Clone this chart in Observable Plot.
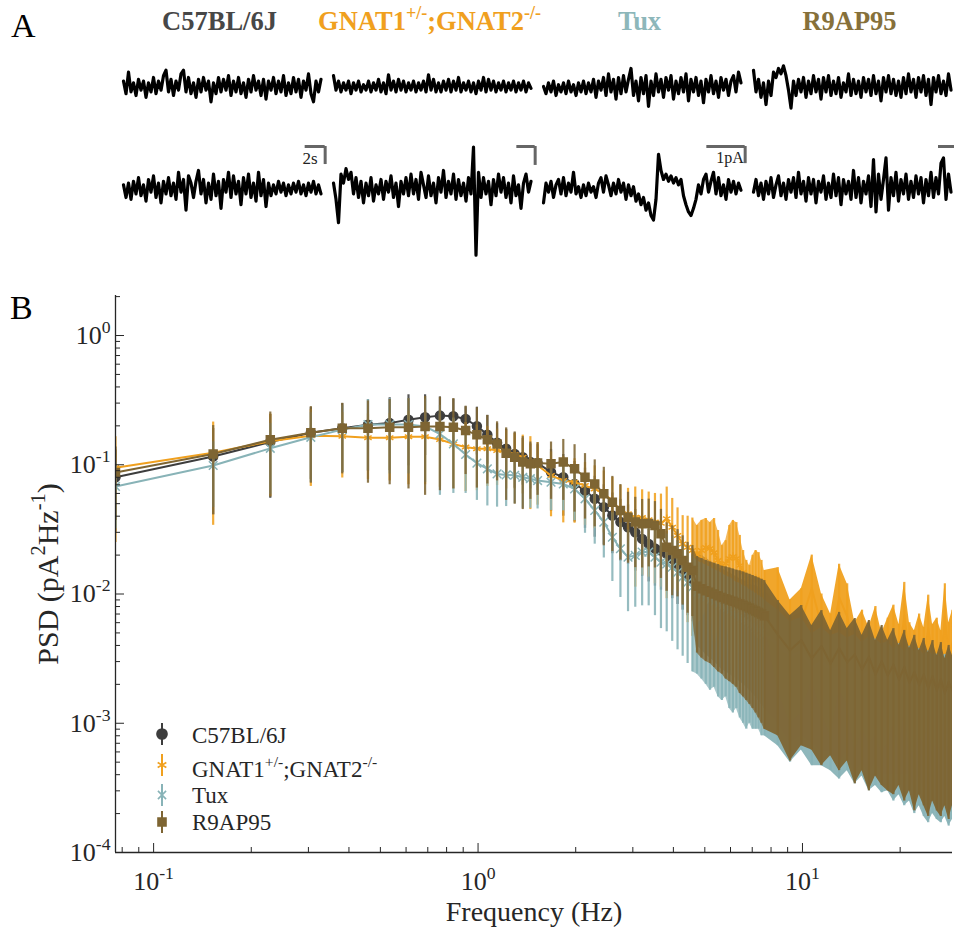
<!DOCTYPE html>
<html><head><meta charset="utf-8">
<script src="https://cdn.jsdelivr.net/npm/d3@7"></script>
<script src="https://cdn.jsdelivr.net/npm/@observablehq/plot@0.6"></script>
<style>
body{margin:0;background:#fff;}
#root{position:relative;width:954px;height:930px;font-family:"Liberation Serif","Times New Roman",serif;overflow:hidden;}
#panelA{position:absolute;left:0;top:0;}
#panelB{position:absolute;left:0;top:270px;}
#overlay{position:absolute;left:0;top:0;pointer-events:none;}
</style></head>
<body><div id="root"><div id="panelA"></div><div id="panelB"></div></div>
<script>
// ---------- categories ----------
const seriesNames = ["C57BL/6J", "GNAT1+/-;GNAT2-/-", "Tux", "R9AP95"];
const seriesLabels = ["C57BL/6J", "GNAT1^{+/-};GNAT2^{-/-}", "Tux", "R9AP95"];
const seriesColors = ["#3d3d3d", "#f0a01e", "#88b3b7", "#7e6533"];
const titleColors = ["#474747", "#f0a01e", "#8db7ba", "#86703a"];
const seriesSymbols = ["circle", "asterisk", "times", "square"];

// ---------- panel A: example current traces (pA), sampled every 0.3 s ----------
const sampleDt = 0.3;
const c57Row1 = [0.3,-0.4,0.8,-0.3,0.2,-0.5,0.4,-0.2,0.3,-0.6, 0.2,-0.3,0.5,-0.4,0.3,-0.2,0.6,0.9,-0.3,0.4, -0.5,0.3,-0.2,0.7,0.9,-0.3,0.5,-0.4,0.2,-0.6, 0.4,-0.3,0.5,-0.2,0.3,-0.85,0.2,-0.4,0.5,-0.3, 0.4,-0.2,0.6,-0.5,0.3,-0.3,0.5,-0.4,0.2,-0.6, 0.4,-0.3,0.6,-0.2,0.3,-0.5,0.4,-0.7,0.3,-0.2, 0.5,-0.4,0.3,-0.3,0.6,-0.5,0.2,-0.4,0.5,-0.3, 0.4,-0.6,0.3,-0.2,0.7,-0.4,-0.85,0.3,-0.3,0.4];
const gnatRow1 = [0.6,-0.2,0.3,-0.3,0.2,-0.2,0.3,-0.4,0.2,-0.2, 0.3,-0.3,0.1,-0.2,0.3,-0.3,0.2,-0.2,0.4,-0.3, 0.2,-0.4,0.65,-0.2,0.3,-0.3,0.4,-0.2,0.3,-0.3, 0.2,-0.2,0.3,-0.3,0.2,-0.2,0.3,-0.3,0.65,-0.2, 0.4,-0.3,0.2,-0.3,0.3,-0.2,0.4,-0.3,0.3,-0.2, 0.5,-0.3,0.2,-0.2,0.3,-0.3,0.2,-0.4,0.3,-0.2, 0.5,-0.3,0.4,-0.2,0.3,-0.3,0.2,-0.2,0.3,-0.3, 0.2,-0.2,0.3,-0.3,0.2,-0.2,0.3,-0.3,0.2,-0.1];
const tuxRow1 = [0.0,-0.4,0.2,-0.3,0.3,-0.5,0.1,-0.3,0.2,-0.4, 0.3,-0.3,0.1,-0.5,0.2,-0.3,0.3,-0.4,0.2,-0.3, 0.4,-0.6,0.3,-0.2,0.5,-0.5,0.7,-0.3,0.4,-0.7, 0.5,-0.4,0.6,-0.3,0.4,1.0,-0.5,0.3,-0.8,0.5, -0.4,0.6,-1.1,0.3,-0.5,0.7,-0.3,0.4,-0.6,0.5, -0.2,0.6,-0.7,0.3,-0.4,0.5,-0.3,0.7,-0.8,0.4, -0.3,0.5,-0.5,0.3,-0.9,0.4,-0.3,0.6,-0.4,0.3, -0.6,0.5,-0.2,0.4,-0.5,0.3,0.6,-0.3,0.8,0.2];
const r9Row1 = [0.9,-0.3,0.4,-0.6,0.2,-1.0,0.3,-0.5,0.8,0.5, 1.0,0.7,1.15,0.6,-0.2,-1.2,0.3,-0.5,0.4,-0.3, 0.5,-0.6,0.3,-0.4,0.6,-0.3,0.4,-0.7,0.5,-0.3, 0.6,-0.5,0.3,-0.4,0.5,-0.6,0.2,-0.3,0.7,-0.5, 0.4,-0.4,0.3,-0.6,0.5,-0.3,0.4,-0.5,0.6,-0.4, 0.3,-0.8,0.5,-0.3,0.6,-0.4,0.4,-0.5,0.3,-0.6, 0.5,-0.4,0.7,-0.3,0.4,-0.6,0.5,-0.3,0.6,-0.5, 0.4,-1.0,0.5,-0.3,0.6,-0.4,0.3,-0.5,0.7,-0.2];
const c57Row2 = [0.2,-0.5,0.3,-0.6,0.4,-0.3,0.6,-0.4,0.2,-0.7, 0.5,-0.2,0.7,-0.5,0.3,-0.8,0.4,-0.3,0.6,-0.4, 0.3,-0.6,0.9,-0.2,0.5,-1.2,0.7,0.3,-0.5,0.4, 1.0,-0.3,0.5,-0.8,0.3,-0.6,0.8,-0.4,0.4,-1.1, 0.5,-0.2,0.9,-0.5,0.7,-0.3,0.4,-0.9,0.6,-0.3, 0.8,-0.5,0.3,-0.7,0.9,-0.4,0.5,-1.0,0.3,-0.4, 0.2,-0.3,0.4,-0.2,0.3,-0.4,0.2,-0.3,0.3,-0.2, 0.4,-0.3,0.2,-0.4,0.3,-0.2,0.4,-0.3,0.2,-0.3];
const gnatRow2 = [0.3,-0.6,-1.9,0.8,0.3,1.1,0.5,0.9,-0.3,0.6, -0.5,0.4,-0.8,0.3,-0.4,0.6,-0.7,0.2,-0.3,0.5, -0.6,0.4,-0.2,0.7,-0.5,0.3,-1.0,0.4,-0.3,0.6, -0.4,0.8,-0.3,0.5,-0.6,0.9,0.2,-0.5,0.7,-0.4, 0.3,-0.8,0.6,-0.2,1.0,-0.5,0.4,-0.3,0.8,-0.6, 0.5,-0.4,0.3,-0.7,0.6,-0.3,2.3,-3.7,0.9,-0.5, 0.6,-0.3,0.4,-0.9,0.5,-0.4,0.8,-0.2,0.6,-0.5, 0.3,-0.8,0.7,-0.4,0.2,-1.1,0.3,0.8,-0.2,0.4];
const tuxRow2 = [-0.8,0.3,-0.2,0.4,-0.5,0.2,0.5,-0.3,0.6,-0.4, 0.3,-0.2,0.9,-0.3,0.1,-0.5,0.2,-0.4,0.3,-0.2, 0.1,-0.5,0.3,0.6,-0.2,0.7,0.2,-0.4,0.3,-0.3, 0.5,-0.2,0.3,-0.6,0.2,-0.4,0.1,-0.7,-0.3,-0.9, -0.5,-1.2,-0.8,-1.5,-1.75,-0.6,1.9,1.0,0.5,0.8, 0.4,0.7,0.3,0.6,0.2,0.5,-0.4,-0.9,-1.3,-1.5, -1.1,-0.6,0.2,-0.3,0.5,0.8,-0.2,0.4,0.9,-0.3, 0.6,-0.4,0.2,-0.6,0.5,-0.2,0.4,-0.3,0.3,-0.1];
const r9Row2 = [-0.2,0.5,-0.4,0.3,-0.6,0.4,-0.3,0.6,-0.5,0.2, 0.7,-0.4,0.3,-0.6,0.5,-0.2,0.6,-0.5,0.9,-0.3, 0.4,-0.7,0.6,-0.3,0.5,-0.8,0.4,-0.2,0.7,-0.6, 0.3,-0.5,0.8,-0.4,0.6,-0.9,0.5,-0.3,0.4,-0.6, 1.0,-0.5,0.6,-0.8,0.4,-0.3,0.7,-1.0,1.6,-1.3, 0.8,-0.6,0.5,1.7,-1.2,0.6,-0.4,0.9,-0.7,0.5, -0.3,0.8,-0.6,0.4,-0.5,0.7,-0.3,0.6,-0.8,0.5, -0.4,0.9,-0.5,0.6,-0.3,1.4,1.7,-0.6,0.8,-0.2];
// scale bars (s, pA)
const scaleBarSec = [2.4, 2.2, 4.6, 2.0];
const scaleBarPA = [1.0, 1.05, 0.95, 0];
const scaleBarLabels = ["2s", "", "1pA", ""];

// ---------- panel B: PSD mean and SD (pA^2/Hz) ----------
const freqHz = [0.0763,0.1526,0.2289,0.3052,0.3815,0.4578,0.5341,0.6104,0.6867,0.7630,
 0.8393,0.9156,0.9919,1.0682,1.1445,1.2208,1.2971,1.3734,1.4497,1.5260,
 1.6786,1.8312,1.9838,2.1364,2.2890,2.4416,2.5942,2.7468,2.8994,3.0520,
 3.2046,3.3572,3.5098,3.6624,3.8150,3.9676,4.1202,4.2728,4.4254,4.5780,
 4.7306,4.8832,5.0358,5.1884,5.3410,5.4936,5.6462,5.7988,5.9514,6.1040,
 6.2566,6.4092,6.5618,6.7144,6.8670,7.0196,7.1722,7.3248,7.4774,7.6300,
 8.393,9.156,9.919,10.682,11.445,12.208,12.971,13.734,14.497,15.260,
 16.023,16.786,17.549,18.312,19.075,19.838,20.601,21.364,22.127,22.890,
 23.653,24.416,25.179,25.942,26.705,27.468,28.231,28.994];
const c57Mean = [0.080,0.116,0.150,0.177,0.192,0.204,0.210,0.223,0.233,0.240,
 0.237,0.226,0.199,0.171,0.148,0.133,0.121,0.1145,0.105,0.103,
 0.0876,0.080,0.071,0.0632,0.0545,0.047,0.0405,0.036,0.0329,0.030,
 0.0267,0.0244,0.0225,0.0217,0.0205,0.0187,0.0171,0.0157,0.0143,0.0131,
 0.0125,0.0118,0.0112,0.0106,0.0101,0.0096,0.0092,0.0088,0.0085,0.0082,
 0.0079,0.0076,0.0074,0.0072,0.0070,0.0068,0.0066,0.0064,0.0062,0.0060,
 0.0046,0.0036,0.0040,0.0031,0.0036,0.0028,0.0034,0.0028,0.0031,0.0025,
 0.0029,0.0023,0.0027,0.0023,0.0026,0.0021,0.0025,0.0020,0.0023,0.0019,
 0.0022,0.0018,0.0021,0.0017,0.0020,0.0017,0.0019,0.0017];
const c57Sd = [0.050,0.075,0.095,0.100,0.105,0.115,0.120,0.125,0.115,0.095,
 0.085,0.055,0.080,0.070,0.060,0.055,0.055,0.045,0.040,0.040,
 0.044,0.040,0.035,0.031,0.027,0.023,0.020,0.018,0.016,0.015,
 0.013,0.012,0.011,0.011,0.010,0.0095,0.0088,0.0082,0.0075,0.0070,
 0.0085,0.0081,0.0078,0.0074,0.0071,0.0068,0.0066,0.0063,0.0061,0.0059,
 0.0057,0.0055,0.0054,0.0053,0.0052,0.0051,0.0050,0.0049,0.0048,0.0047,
 0.0036,0.0029,0.0032,0.0024,0.0030,0.0022,0.0029,0.0022,0.0027,0.0020,
 0.0025,0.0018,0.0023,0.0019,0.0022,0.0017,0.0021,0.0016,0.0020,0.0015,
 0.0019,0.0015,0.0018,0.0014,0.0017,0.0014,0.0016,0.0014];
const gnatMean = [0.095,0.124,0.152,0.168,0.166,0.162,0.162,0.165,0.165,0.157,
 0.145,0.137,0.133,0.133,0.129,0.125,0.120,0.1145,0.105,0.0987,
 0.0826,0.0755,0.0733,0.069,0.0651,0.0596,0.0529,0.0443,0.0417,0.0393,
 0.039,0.0375,0.036,0.0353,0.0382,0.0329,0.0284,0.0244,0.023,0.0217,
 0.0199,0.0217,0.0229,0.0225,0.0209,0.0182,0.0166,0.0172,0.0188,0.0195,
 0.0188,0.0166,0.0147,0.0132,0.0123,0.0127,0.0132,0.0127,0.0116,0.0106,
 0.0089,0.0050,0.0061,0.0111,0.0056,0.0039,0.0094,0.0067,0.0033,0.0042,
 0.0031,0.0044,0.0028,0.0036,0.0046,0.0032,0.0068,0.0033,0.0029,0.0039,
 0.0031,0.0054,0.0032,0.0036,0.0029,0.0067,0.0033,0.0042];
const gnatSd = [0.070,0.090,0.095,0.100,0.087,0.085,0.087,0.095,0.095,0.090,
 0.080,0.075,0.070,0.065,0.060,0.060,0.055,0.055,0.060,0.050,
 0.043,0.040,0.038,0.035,0.033,0.030,0.027,0.025,0.024,0.028,
 0.025,0.024,0.024,0.024,0.029,0.022,0.018,0.016,0.017,0.017,
 0.0140,0.0154,0.0155,0.0132,0.0175,0.0128,0.0071,0.0087,0.0151,0.0176,
 0.0169,0.0118,0.0070,0.0050,0.0043,0.0072,0.0085,0.0082,0.0066,0.0046,
 0.0071,0.0040,0.0049,0.0089,0.0044,0.0031,0.0076,0.0053,0.0027,0.0033,
 0.0024,0.0036,0.0022,0.0029,0.0036,0.0026,0.0055,0.0027,0.0023,0.0031,
 0.0024,0.0044,0.0026,0.0029,0.0023,0.0053,0.0027,0.0033];
const tuxMean = [0.068,0.0987,0.134,0.163,0.187,0.205,0.205,0.205,0.198,0.173,
 0.145,0.120,0.103,0.093,0.085,0.0835,0.083,0.080,0.078,0.0755,
 0.0733,0.071,0.065,0.0545,0.0443,0.036,0.0275,0.0224,0.0193,0.0199,
 0.0211,0.0211,0.0193,0.0176,0.0171,0.0161,0.0147,0.0135,0.0123,0.0113,
 0.0102,0.0098,0.0094,0.0090,0.0087,0.0083,0.0080,0.0077,0.0074,0.0071,
 0.0068,0.0066,0.0063,0.0061,0.0059,0.0057,0.0055,0.0053,0.0051,0.0049,
 0.0041,0.0033,0.0036,0.0027,0.0030,0.0026,0.0027,0.0025,0.0026,0.0023,
 0.0025,0.0024,0.0022,0.0023,0.0020,0.0022,0.0019,0.0021,0.0019,0.0020,
 0.0018,0.0019,0.0018,0.0018,0.0017,0.0018,0.0016,0.0017];
const tuxSd = [0.036,0.052,0.075,0.090,0.100,0.115,0.120,0.120,0.125,0.115,
 0.085,0.060,0.050,0.045,0.038,0.036,0.033,0.034,0.032,0.030,
 0.029,0.027,0.028,0.025,0.020,0.017,0.015,0.013,0.012,0.012,
 0.013,0.013,0.0125,0.0122,0.012,0.0118,0.011,0.0102,0.0094,0.0088,
 0.0078,0.0076,0.0074,0.0072,0.0068,0.0067,0.0065,0.0061,0.0061,0.0059,
 0.0055,0.0055,0.0053,0.0052,0.0049,0.0048,0.0046,0.0044,0.0043,0.0041,
 0.00343,0.00280,0.00298,0.00223,0.00253,0.00217,0.00233,0.00207,0.00226,0.00191,
 0.00220,0.00207,0.00191,0.00200,0.00175,0.00192,0.00167,0.00185,0.00170,0.00177,
 0.00161,0.00173,0.00160,0.00162,0.00153,0.00161,0.00144,0.00152];
const r9Mean = [0.087,0.121,0.156,0.177,0.192,0.192,0.195,0.195,0.198,0.198,
 0.195,0.184,0.171,0.156,0.145,0.123,0.1145,0.105,0.102,0.103,
 0.102,0.105,0.093,0.080,0.0711,0.0596,0.0513,0.0443,0.0393,0.036,
 0.0349,0.0352,0.0339,0.0292,0.023,0.0217,0.0205,0.0182,0.0161,0.0152,
 0.0115,0.0110,0.0106,0.0103,0.0100,0.0097,0.0094,0.0092,0.0090,0.0088,
 0.0086,0.0084,0.0082,0.0080,0.0078,0.0076,0.0074,0.0072,0.0070,0.0068,
 0.00485,0.00367,0.00441,0.00316,0.00396,0.00289,0.00382,0.00296,0.0034,0.00261,
 0.00327,0.00238,0.00302,0.00234,0.00284,0.00217,0.00274,0.00205,0.0025,0.00197,
 0.00238,0.00186,0.00231,0.00178,0.0022,0.0017,0.00209,0.00179];
const r9Sd = [0.050,0.080,0.100,0.105,0.107,0.120,0.125,0.130,0.140,0.135,
 0.130,0.100,0.105,0.085,0.070,0.070,0.065,0.060,0.048,0.045,
 0.048,0.052,0.050,0.042,0.038,0.036,0.030,0.026,0.022,0.020,
 0.019,0.019,0.018,0.016,0.0125,0.012,0.011,0.010,0.009,0.0085,
 0.0080,0.0078,0.0076,0.0074,0.0073,0.0072,0.0070,0.0070,0.0069,0.0068,
 0.0067,0.0067,0.0066,0.0065,0.0064,0.0063,0.0062,0.0061,0.0060,0.0059,
 0.00405,0.00316,0.00374,0.00254,0.00349,0.00233,0.00339,0.00245,0.00306,0.00218,
 0.00297,0.00199,0.00269,0.00204,0.00256,0.00184,0.00249,0.00175,0.00229,0.00169,
 0.00215,0.00167,0.00206,0.00157,0.00201,0.00147,0.00191,0.00156];

// axis ticks
const yMajorTicks = [1e-4, 1e-3, 1e-2, 1e-1, 1];
const yMinorTicks = [2e-4,3e-4,4e-4,5e-4,6e-4,7e-4,8e-4,9e-4, 2e-3,3e-3,4e-3,5e-3,6e-3,7e-3,8e-3,9e-3,
  0.02,0.03,0.04,0.05,0.06,0.07,0.08,0.09, 0.2,0.3,0.4,0.5,0.6,0.7,0.8,0.9, 2];
const xMajorTicks = [0.1, 1, 10];
const xMinorTicks = [0.08,0.09, 0.2,0.3,0.4,0.5,0.6,0.7,0.8,0.9, 2,3,4,5,6,7,8,9, 20];
const xDomain = [0.0763, 29];
const yDomain = [1e-4, 2.04];

// ---------- helpers ----------
function richParts(str) {
  const parts = []; const re = /\^\{([^}]*)\}/g; let last = 0, m;
  while ((m = re.exec(str))) {
    if (m.index > last) parts.push([str.slice(last, m.index), false]);
    parts.push([m[1], true]); last = re.lastIndex;
  }
  if (last < str.length) parts.push([str.slice(last), false]);
  return parts;
}
function fillRich(sel, str, fs) {
  const shift = fs * 0.42; let up = false;
  sel.text(null);
  for (const [s, sup] of richParts(str)) {
    const t = sel.append("tspan").text(s);
    if (sup) { t.attr("font-size", fs * 0.68); if (!up) { t.attr("dy", -shift); up = true; } }
    else if (up) { t.attr("dy", shift); up = false; }
  }
}
function applyRich(el) {
  const str = el.textContent;
  if (!str.includes("^{")) return;
  const fs = parseFloat(getComputedStyle(el).fontSize) || 16;
  fillRich(d3.select(el), str, fs);
}

// ---------- panel A ----------
const traceSets = [[c57Row1, c57Row2], [gnatRow1, gnatRow2], [tuxRow1, tuxRow2], [r9Row1, r9Row2]];
const traceRows = [];
traceSets.forEach((rows, gi) => rows.forEach((vals, ri) => vals.forEach((v, i) =>
  traceRows.push({group: seriesNames[gi], row: ri + 1, t: i * sampleDt, v}))));
const traceEnd = 24.2;
const barTop = 2.33;
const barRows = seriesNames.map((g, i) => ({group: g, row: 2, t1: traceEnd - scaleBarSec[i], t2: traceEnd,
  yTop: barTop, yBot: barTop - scaleBarPA[i], label: scaleBarLabels[i]}));
const titleRows = seriesNames.map((g, i) => ({group: g, row: 1, label: seriesLabels[i], color: titleColors[i]}));

const plotA = Plot.plot({
  width: 954, height: 270, marginLeft: 122, marginRight: 0, marginTop: 35, marginBottom: 31,
  x: {domain: [0, 24], axis: null},
  y: {domain: [-2.83, 2.83], axis: null},
  fx: {domain: seriesNames, paddingInner: 0.0475, paddingOuter: 0, axis: null, label: null},
  fy: {domain: [1, 2], padding: 0, axis: null, label: null},
  color: {type: "identity"},
  style: {fontFamily: "'Liberation Serif', 'Times New Roman', serif", background: "white", overflow: "visible"},
  marks: [
    Plot.line(traceRows, {fx: "group", fy: "row", x: "t", y: "v", stroke: "#000", strokeWidth: 3.2, strokeLinejoin: "round"}),
    Plot.ruleY(barRows, {fx: "group", fy: "row", y: "yTop", x1: "t1", x2: "t2", stroke: "#666", strokeWidth: 3}),
    Plot.ruleX(barRows.filter(d => d.yBot < d.yTop), {fx: "group", fy: "row", x: "t2", y1: "yBot", y2: "yTop", stroke: "#666", strokeWidth: 3}),
    Plot.text(barRows.filter(d => d.label === "2s"), {fx: "group", fy: "row", x: d => d.t2 - 0.9, y: d => d.yTop - 0.65, text: "label", textAnchor: "end", fontSize: 17, fill: "#222"}),
    Plot.text(barRows.filter(d => d.label === "1pA"), {fx: "group", fy: "row", x: d => d.t2 - 0.15, y: d => d.yTop - 0.65, text: "label", textAnchor: "end", fontSize: 16, fill: "#222"}),
    Plot.text(titleRows, {fx: "group", fy: "row", text: "label", fill: "color", frameAnchor: "top", lineAnchor: "middle", dy: -14, dx: -4, fontSize: 26.5, fontWeight: "bold"})
  ]
});
document.getElementById("panelA").appendChild(plotA);

// ---------- panel B ----------
const psd = [
  {name: seriesNames[0], color: seriesColors[0], symbol: seriesSymbols[0], mean: c57Mean, sd: c57Sd},
  {name: seriesNames[1], color: seriesColors[1], symbol: seriesSymbols[1], mean: gnatMean, sd: gnatSd},
  {name: seriesNames[2], color: seriesColors[2], symbol: seriesSymbols[2], mean: tuxMean, sd: tuxSd},
  {name: seriesNames[3], color: seriesColors[3], symbol: seriesSymbols[3], mean: r9Mean, sd: r9Sd}
];
const marksB = [];
for (const s of psd) {
  const rows = freqHz.map((f, j) => ({f, m: s.mean[j], lo: Math.max(s.mean[j] - s.sd[j], 1.05e-4), hi: s.mean[j] + s.sd[j]}));
  marksB.push(Plot.areaY(rows.filter(d => d.f >= 4.5 && d.f <= 7.7), {x: "f", y1: "lo", y2: "hi", fill: s.color, fillOpacity: 0.72, clip: true}));
  marksB.push(Plot.areaY(rows.filter(d => d.f >= 7.6), {x: "f", y1: "lo", y2: "hi", fill: s.color, fillOpacity: 0.94, clip: true}));
  marksB.push(Plot.ruleX(rows, {x: "f", y1: "lo", y2: "hi", stroke: s.color, strokeWidth: 2.2, strokeOpacity: 0.88, clip: true}));
  marksB.push(Plot.line(rows, {x: "f", y: "m", stroke: s.color, strokeWidth: 2, clip: true}));
  const pts = rows.filter(d => d.f < 7.7);
  if (s.symbol === "circle") marksB.push(Plot.dot(pts, {x: "f", y: "m", symbol: "circle", r: 4.5, fill: s.color, stroke: s.color, clip: true}));
  else if (s.symbol === "square") marksB.push(Plot.dot(pts, {x: "f", y: "m", symbol: "square", r: 4.5, fill: s.color, stroke: s.color, clip: true}));
  else marksB.push(Plot.dot(pts, {x: "f", y: "m", symbol: s.symbol, r: 4, fill: "none", stroke: s.color, strokeWidth: 1.5, clip: true}));
}
const axisColor = "#262626";
const expFmt = d => `10^{${Math.round(Math.log10(d))}}`;
marksB.push(
  Plot.ruleX([xDomain[0]], {stroke: axisColor, strokeWidth: 1.3}),
  Plot.ruleY([yDomain[0]], {stroke: axisColor, strokeWidth: 1.3}),
  Plot.axisY(yMajorTicks, {tickSize: -9, tickPadding: 14, tickFormat: expFmt, fontSize: 26, color: axisColor, label: null}),
  Plot.axisY(yMinorTicks, {tickSize: -5, tickFormat: () => "", label: null, color: axisColor}),
  Plot.axisX(xMajorTicks, {tickSize: -9, tickPadding: 28, tickFormat: expFmt, fontSize: 26, color: axisColor, label: null}),
  Plot.axisX(xMinorTicks, {tickSize: -5, tickFormat: () => "", label: null, color: axisColor}),
  Plot.text(["PSD (pA^{2}Hz^{-1})"], {frameAnchor: "left", textAnchor: "middle", rotate: -90, dx: -58, fontSize: 30, fill: axisColor, lineAnchor: "bottom"}),
  Plot.text(["Frequency (Hz)"], {frameAnchor: "bottom", textAnchor: "middle", dy: 68, fontSize: 28, fill: axisColor, lineAnchor: "bottom"})
);
const plotB = Plot.plot({
  width: 954, height: 660, marginLeft: 115, marginRight: 2, marginTop: 25, marginBottom: 78,
  x: {type: "log", domain: xDomain},
  y: {type: "log", domain: yDomain},
  style: {fontFamily: "'Liberation Serif', 'Times New Roman', serif", background: "white", color: axisColor, overflow: "visible"},
  marks: marksB
});
document.getElementById("panelB").appendChild(plotB);

// superscripts
d3.selectAll("#root svg text").each(function () { applyRich(this); });

// ---------- overlay: panel letters and legend ----------
const ov = d3.select("#root").append("svg").attr("id", "overlay").attr("width", 954).attr("height", 930)
  .style("font-family", "'Liberation Serif', 'Times New Roman', serif");
ov.append("text").attr("x", 11).attr("y", 37).attr("font-size", 34).attr("fill", "#000").text("A");
ov.append("text").attr("x", 10).attr("y", 319).attr("font-size", 34).attr("fill", "#000").text("B");
const legY = [734, 765, 795, 822];
const legBase = [743, 777, 803, 830];
const symMap = {circle: [d3.symbolCircle, 80, true], asterisk: [d3.symbolAsterisk, 70, false], times: [d3.symbolTimes, 45, false], square: [d3.symbolSquare, 64, true]};
psd.forEach((s, i) => {
  const g = ov.append("g");
  g.append("line").attr("x1", 162).attr("x2", 162).attr("y1", legY[i] - 11).attr("y2", legY[i] + 11)
    .attr("stroke", s.color).attr("stroke-width", 2);
  const [type, size, filled] = symMap[s.symbol];
  g.append("path").attr("transform", `translate(162,${legY[i]})`).attr("d", d3.symbol(type, size)())
    .attr("fill", filled ? s.color : "none").attr("stroke", s.color).attr("stroke-width", 1.6);
  const t = g.append("text").attr("x", 192).attr("y", legBase[i]).attr("font-size", 23).attr("fill", axisColor);
  fillRich(t, seriesLabels[i], 23);
});
</script>
</body></html>
